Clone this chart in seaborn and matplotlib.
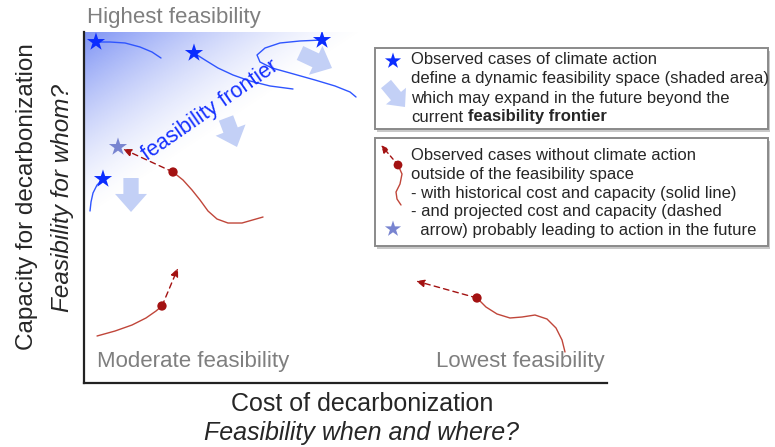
import numpy as np
import matplotlib
matplotlib.use("Agg")
import matplotlib.pyplot as plt
import matplotlib.transforms as mtrans
from matplotlib.patches import Rectangle
import seaborn as sns

sns.set_style("white")
plt.rcParams['font.family'] = ['Liberation Sans', 'DejaVu Sans']

# ---------------- data (conceptual units 0-100) ----------------
blue1_x = [2.29, 4.97, 7.84, 10.71, 13.00, 14.72]
blue1_y = [97.15, 97.15, 96.87, 95.73, 94.30, 92.59]
blue2_x = [21.03, 23.14, 25.62, 28.49, 31.74, 35.56, 39.96]
blue2_y = [94.02, 92.02, 89.74, 87.75, 86.04, 84.62, 83.76]
blue3_x = [45.51, 41.30, 37.48, 34.61, 33.08, 33.65, 35.95, 39.39, 44.17, 47.99, 50.86, 52.01]
blue3_y = [97.72, 97.44, 96.87, 95.44, 93.45, 91.45, 89.74, 88.32, 86.32, 84.62, 82.91, 81.48]
blue4_x = [3.63, 2.49, 1.72, 1.34, 1.15]
blue4_y = [58.12, 56.41, 54.13, 51.57, 49.00]

star_x = [2.29, 21.03, 45.51, 3.63]
star_y = [97.15, 94.02, 97.72, 58.12]
future_star_x = [6.50]
future_star_y = [67.24]

redA_x = [17.02, 18.93, 20.65, 22.18, 23.71, 25.43, 27.53, 30.21, 34.23]
redA_y = [60.11, 57.83, 54.99, 52.14, 49.00, 46.72, 45.58, 45.58, 47.29]
redB_x = [14.91, 13.77, 11.85, 9.18, 5.93, 2.49]
redB_y = [21.94, 20.51, 18.52, 16.52, 14.81, 13.39]
redC_x = [75.14, 76.86, 78.97, 81.45, 83.75, 86.23, 88.53, 90.25, 91.40, 91.97]
redC_y = [24.22, 21.65, 19.66, 18.52, 18.80, 19.37, 18.23, 15.67, 12.25, 8.83]
# projected (dashed) arrow tips
projA = (7.46, 66.67)
projB = (17.97, 32.76)
projC = (63.48, 29.06)

# expansion arrows (tail -> tip)
expand_tail = [(41.30, 94.02), (27.15, 75.50), (8.99, 58.40)]
expand_tip = [(47.42, 89.74), (29.25, 67.24), (8.99, 48.72)]

corner_labels = ["Highest feasibility", "Moderate feasibility", "Lowest feasibility"]
legend1_lines = ["Observed cases of climate action",
                 "define a dynamic feasibility space (shaded area)",
                 "which may expand in the future beyond the"]
legend2_lines = ["Observed cases without climate action",
                 "outside of the feasibility space",
                 "- with historical cost and capacity (solid line)",
                 "- and projected cost and capacity (dashed",
                 "  arrow) probably leading to action in the future"]

# ---------------- styles ----------------
W, H = 775, 447
STAR_C = "#0a2cff"
LINE_B = "#2f55ff"
FUT_STAR = "#7884d0"
RED_L = "#c0463a"
RED_D = "#a31212"
ARROW_C = "#c3d0f6"
GRAY = "#7f7f7f"

fig = plt.figure(figsize=(W / 100, H / 100), dpi=100)
L, R, T, B = 84, 607, 32, 383
ax = fig.add_axes([L / W, 1 - B / H, (R - L) / W, (B - T) / H])
ax.set_xlim(0, 100)
ax.set_ylim(0, 100)
ax.set_xticks([])
ax.set_yticks([])
for s in ["top", "right"]:
    ax.spines[s].set_visible(False)
for s in ["left", "bottom"]:
    ax.spines[s].set_color("#222222")
    ax.spines[s].set_linewidth(1.6)
    ax.spines[s].set_zorder(10)

# gradient shading (feasibility space), fading toward the frontier
gx = np.linspace(0, 100, 500)
gy = np.linspace(0, 100, 500)
GX, GY = np.meshgrid(gx, gy)
PX = L + GX * (R - L) / 100
PY = B - GY * (B - T) / 100
p0 = np.array([84.0, 222.0])
p1 = np.array([366.0, 32.0])
dvec = p1 - p0
n = np.array([dvec[1], -dvec[0]])
n /= np.linalg.norm(n)
if (np.array([84.0, 32.0]) - p0) @ n < 0:
    n = -n
d = (PX - p0[0]) * n[0] + (PY - p0[1]) * n[1]
dmax = (np.array([84.0, 32.0]) - p0) @ n
alpha = 0.72 * np.clip(d / dmax, 0, 1) ** 1.45
img = np.zeros(GX.shape + (4,))
img[..., 0] = 75 / 255
img[..., 1] = 105 / 255
img[..., 2] = 240 / 255
img[..., 3] = alpha
ax.imshow(img, extent=(0, 100, 0, 100), origin="lower", aspect="auto", zorder=0, interpolation="bilinear")

# expansion arrows
for (tx, ty), (hx, hy) in zip(expand_tail, expand_tip):
    ax.annotate("", xy=(hx, hy), xytext=(tx, ty),
                arrowprops=dict(arrowstyle="simple,head_length=0.65,head_width=1.15,tail_width=0.55",
                                mutation_scale=20, color=ARROW_C, shrinkA=0, shrinkB=0, lw=0),
                zorder=1)

# blue curves and stars
for xs, ys in [(blue1_x, blue1_y), (blue2_x, blue2_y), (blue3_x, blue3_y), (blue4_x, blue4_y)]:
    sns.lineplot(x=xs, y=ys, sort=False, estimator=None, color=LINE_B, lw=1.0, ax=ax, zorder=3)
sns.scatterplot(x=star_x, y=star_y, marker="*", s=190, color=STAR_C, edgecolor="none", ax=ax, zorder=5)
sns.scatterplot(x=future_star_x, y=future_star_y, marker="*", s=190, color=FUT_STAR, edgecolor="none", ax=ax, zorder=5)

# red curves: solid history, dashed projection from the current state (first point)
for xs, ys, tip in [(redA_x, redA_y, projA), (redB_x, redB_y, projB), (redC_x, redC_y, projC)]:
    sns.lineplot(x=xs, y=ys, sort=False, estimator=None, color=RED_L, lw=1.0, ax=ax, zorder=3)
    ax.annotate("", xy=tip, xytext=(xs[0], ys[0]),
                arrowprops=dict(arrowstyle="-|>,head_length=0.5,head_width=0.22", color=RED_D, lw=1.0,
                                linestyle=(0, (4, 3)), shrinkA=0, shrinkB=0), zorder=4)
dot_x = [redA_x[0], redB_x[0], redC_x[0]]
dot_y = [redA_y[0], redB_y[0], redC_y[0]]
sns.scatterplot(x=dot_x, y=dot_y, s=45, color=RED_D, edgecolor="none", ax=ax, zorder=6)

ax.text(24.1, 77.8, "feasibility frontier", color="#1530ff", fontsize=15.5, rotation=34.8,
        ha="center", va="center", zorder=6)

# ---------------- overlay (labels & legend) in pixel space ----------------
ov = fig.add_axes([0, 0, 1, 1], zorder=5)
ov.set_xlim(0, W)
ov.set_ylim(H, 0)
ov.axis("off")
ov.patch.set_visible(False)

ov.text(87, 18, corner_labels[0], color=GRAY, fontsize=16, ha="left", va="center")
ov.text(97, 361, corner_labels[1], color=GRAY, fontsize=16, ha="left", va="center")
ov.text(605, 361, corner_labels[2], color=GRAY, fontsize=16, ha="right", va="center")

ov.text(362, 404, "Cost of decarbonization", fontsize=18, ha="center", va="center")
ov.text(362, 433, "Feasibility when and where?", fontsize=18, style="italic", ha="center", va="center")
ov.text(27, 197, "Capacity for decarbonization", fontsize=17.5, rotation=90, ha="center", va="center")
ov.text(62, 198, "Feasibility for whom?", fontsize=17.5, style="italic", rotation=90, ha="center", va="center")

# legend boxes
for (x0, y0, x1, y1) in [(375, 48, 768, 129), (375, 138, 768, 246)]:
    ov.add_patch(Rectangle((x0 + 1.5, y0 + 2.5), x1 - x0, y1 - y0, facecolor="#c8c8c8", edgecolor="none", zorder=1))
    ov.add_patch(Rectangle((x0, y0), x1 - x0, y1 - y0, facecolor="white", edgecolor="#8a8a8a", lw=1.4, zorder=2))

LFS = 12
for i, line in enumerate(legend1_lines):
    ov.text(411, 60 + i * 19, line, fontsize=LFS, ha="left", va="center", zorder=3)
t = ov.text(411, 117, "current", fontsize=LFS, ha="left", va="center", zorder=3)
fig.canvas.draw()
r = fig.canvas.get_renderer()
bb = t.get_window_extent(r)
m1 = ov.text(100, 300, "current x", fontsize=LFS)
m2 = ov.text(100, 300, "current", fontsize=LFS)
m3 = ov.text(100, 300, "x", fontsize=LFS)
space_w = m1.get_window_extent(r).width - m2.get_window_extent(r).width - m3.get_window_extent(r).width
for m in (m1, m2, m3):
    m.remove()
x_end = bb.x1 + space_w
ov.text(x_end, 117, "feasibility frontier", fontsize=LFS, fontweight="bold", ha="left", va="center",
        transform=mtrans.blended_transform_factory(mtrans.IdentityTransform(), ov.transData), zorder=3)

for i, line in enumerate(legend2_lines):
    ov.text(411, 156 + i * 18.6, line, fontsize=LFS, ha="left", va="center", zorder=3)

# legend symbols
ov.scatter([393], [61], marker="*", s=150, color=STAR_C, edgecolor="none", zorder=4)
ov.annotate("", xy=(405, 107), xytext=(386, 84),
            arrowprops=dict(arrowstyle="simple,head_length=0.6,head_width=1.1,tail_width=0.55",
                            mutation_scale=17, color=ARROW_C, shrinkA=0, shrinkB=0, lw=0), zorder=4)
leg_red_x = [398, 402, 400, 396, 397, 401]
leg_red_y = [165, 174, 184, 192, 199, 205]
ov.plot(leg_red_x, leg_red_y, color=RED_L, lw=1.0, zorder=4)
ov.annotate("", xy=(381, 145), xytext=(398, 165),
            arrowprops=dict(arrowstyle="-|>,head_length=0.45,head_width=0.2", color=RED_D, lw=1.0,
                            linestyle=(0, (3, 2.5)), shrinkA=0, shrinkB=0), zorder=4)
ov.scatter([398], [165], s=40, color=RED_D, edgecolor="none", zorder=5)
ov.scatter([393], [229], marker="*", s=150, color=FUT_STAR, edgecolor="none", zorder=4)

fig.savefig("out.png", dpi=100)
